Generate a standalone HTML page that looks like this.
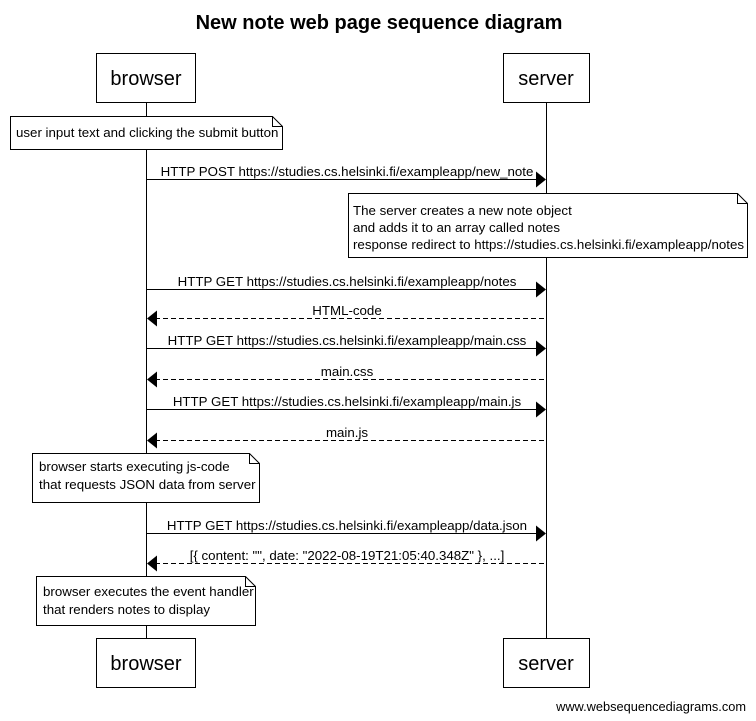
<!DOCTYPE html>
<html><head><meta charset="utf-8"><style>
html,body{margin:0;padding:0;background:#fff;width:756px;height:721px;overflow:hidden}
text{font-family:"Liberation Sans",sans-serif;fill:#000}
.m{font-size:13.3px}
</style></head><body>
<svg width="756" height="721" xmlns="http://www.w3.org/2000/svg">
<text x="379" y="29" font-size="20" font-weight="bold" text-anchor="middle">New note web page sequence diagram</text>
<g stroke="#000" stroke-width="1" fill="none">
<line x1="146.5" y1="102" x2="146.5" y2="638"/>
<line x1="546.5" y1="102" x2="546.5" y2="638"/>
</g>
<g stroke="#000" stroke-width="1" fill="#fff">
<rect x="96.5" y="53.5" width="99" height="49"/>
<rect x="503.5" y="53.5" width="86" height="49"/>
<rect x="96.5" y="638.5" width="99" height="49"/>
<rect x="503.5" y="638.5" width="86" height="49"/>
</g>
<g font-size="20" text-anchor="middle">
<text x="146" y="85">browser</text><text x="546" y="85">server</text>
<text x="146" y="670">browser</text><text x="546" y="670">server</text>
</g>
<g stroke="#000" stroke-width="1" fill="#fff">
<path d="M10.5 116.5H272.5L282.5 126.5V149.5H10.5Z"/><path d="M272.5 116.5V126.5H282.5" fill="none"/>
<path d="M348.5 193.5H737.5L747.5 203.5V257.5H348.5Z"/><path d="M737.5 193.5V203.5H747.5" fill="none"/>
<path d="M32.5 453.5H249.5L259.5 463.5V502.5H32.5Z"/><path d="M249.5 453.5V463.5H259.5" fill="none"/>
<path d="M36.5 576.5H245.5L255.5 586.5V625.5H36.5Z"/><path d="M245.5 576.5V586.5H255.5" fill="none"/>
</g>
<g class="m">
<text x="16" y="137">user input text and clicking the submit button</text>
<text x="353" y="215">The server creates a new note object</text>
<text x="353" y="232">and adds it to an array called notes</text>
<text x="353" y="249">response redirect to https://studies.cs.helsinki.fi/exampleapp/notes</text>
<text x="39" y="471">browser starts executing js-code</text>
<text x="39" y="489">that requests JSON data from server</text>
<text x="43" y="596">browser executes the event handler</text>
<text x="43" y="614">that renders notes to display</text>
</g>
<g stroke="#000" stroke-width="1">
<line x1="147" y1="179.5" x2="538" y2="179.5"/>
<line x1="147" y1="289.5" x2="538" y2="289.5"/>
<line x1="155" y1="318.5" x2="546" y2="318.5" stroke-dasharray="5,3"/>
<line x1="147" y1="348.5" x2="538" y2="348.5"/>
<line x1="155" y1="379.5" x2="546" y2="379.5" stroke-dasharray="5,3"/>
<line x1="147" y1="409.5" x2="538" y2="409.5"/>
<line x1="155" y1="440.5" x2="546" y2="440.5" stroke-dasharray="5,3"/>
<line x1="147" y1="533.5" x2="538" y2="533.5"/>
<line x1="155" y1="563.5" x2="546" y2="563.5" stroke-dasharray="5,3"/>
</g>
<g fill="#000">
<path d="M536 171.5L546 179.5L536 187.5Z"/>
<path d="M536 281.5L546 289.5L536 297.5Z"/>
<path d="M157 310.5L147 318.5L157 326.5Z"/>
<path d="M536 340.5L546 348.5L536 356.5Z"/>
<path d="M157 371.5L147 379.5L157 387.5Z"/>
<path d="M536 401.5L546 409.5L536 417.5Z"/>
<path d="M157 432.5L147 440.5L157 448.5Z"/>
<path d="M536 525.5L546 533.5L536 541.5Z"/>
<path d="M157 555.5L147 563.5L157 571.5Z"/>
</g>
<g class="m" text-anchor="middle">
<text x="347" y="176">HTTP POST https://studies.cs.helsinki.fi/exampleapp/new_note</text>
<text x="347" y="286">HTTP GET https://studies.cs.helsinki.fi/exampleapp/notes</text>
<text x="347" y="315">HTML-code</text>
<text x="347" y="345">HTTP GET https://studies.cs.helsinki.fi/exampleapp/main.css</text>
<text x="347" y="376">main.css</text>
<text x="347" y="406">HTTP GET https://studies.cs.helsinki.fi/exampleapp/main.js</text>
<text x="347" y="437">main.js</text>
<text x="347" y="530">HTTP GET https://studies.cs.helsinki.fi/exampleapp/data.json</text>
<text x="347" y="560">[{ content: "", date: "2022-08-19T21:05:40.348Z" }, ...]</text>
</g>
<text x="746" y="711" font-size="12.8" text-anchor="end">www.websequencediagrams.com</text>
</svg>
</body></html>
